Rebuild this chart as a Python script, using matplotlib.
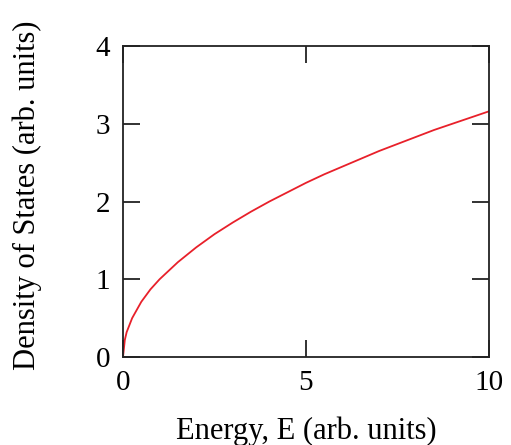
import matplotlib
matplotlib.use('Agg')
import matplotlib.pyplot as plt

# values
energia = [0, 0.05, 0.1, 0.25, 0.5, 0.75, 1, 1.5, 2, 2.5, 3, 3.5, 4, 4.5, 5,
           5.5, 6, 6.5, 7, 7.5, 8, 8.5, 9, 9.5, 10]
dos = [0, 0.22, 0.32, 0.5, 0.71, 0.87, 1.0, 1.22, 1.41, 1.58, 1.73, 1.87, 2.0,
       2.12, 2.24, 2.35, 2.45, 2.55, 2.65, 2.74, 2.83, 2.92, 3.0, 3.08, 3.16]

plt.rcParams['font.family'] = ['Liberation Serif', 'DejaVu Serif']

fig = plt.figure(figsize=(5.11, 4.45), dpi=100)
ax = fig.add_axes([123/511, 1-357/445, (489-123)/511, (357-46)/445])

ax.plot(energia, dos, color='#e8202a', lw=1.3)

ax.set_xlim(0, 10)
ax.set_ylim(0, 4)
ax.set_xticks([0, 5, 10])
ax.set_yticks([0, 1, 2, 3, 4])
ax.tick_params(direction='in', top=True, right=True, length=12, width=1.3,
               labelsize=21, color='#222222')
ax.tick_params(axis='x', pad=9)
ax.tick_params(axis='y', pad=9)
for s in ax.spines.values():
    s.set_linewidth(1.3)
    s.set_color('#222222')

ax.set_xlabel('Energy, E (arb. units)', fontsize=22, labelpad=15)
ax.set_ylabel('Density of States (arb. units)', fontsize=22)
ax.yaxis.set_label_coords(-0.222, 0.52)

fig.savefig('out.png', dpi=100)
